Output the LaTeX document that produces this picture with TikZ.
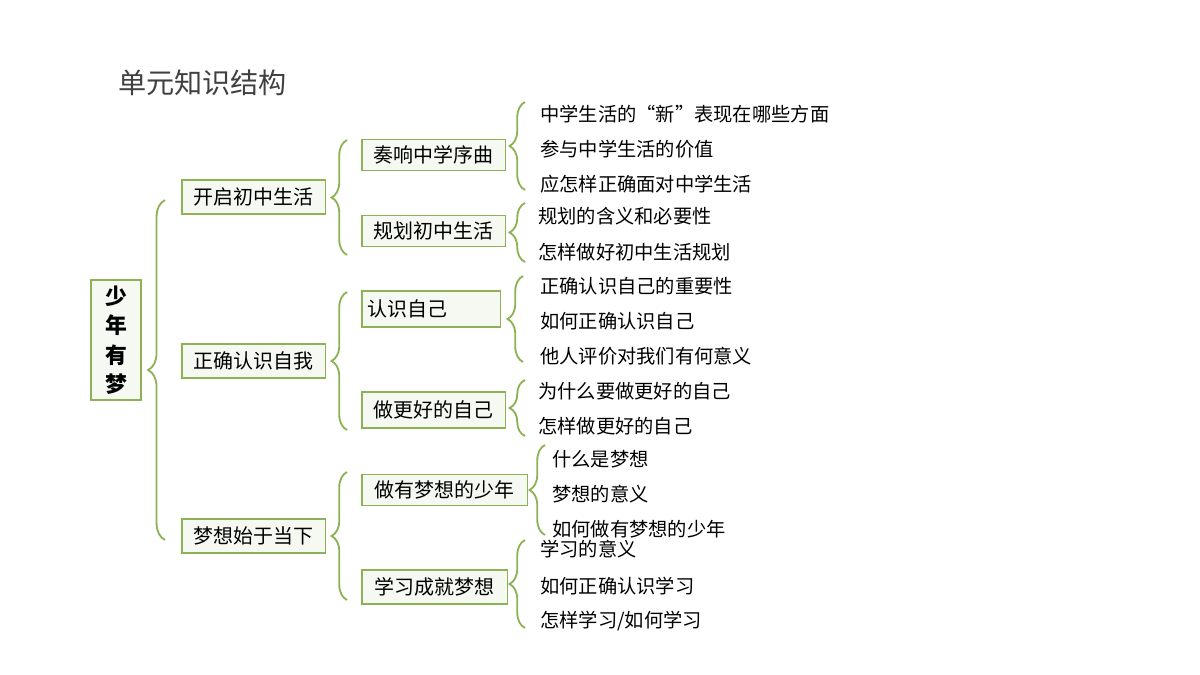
\documentclass[tikz,border=0pt]{standalone}
\usepackage{fontspec}
\setmainfont{Noto Sans CJK SC}
\usetikzlibrary{decorations.pathreplacing}
\definecolor{leafgreen}{HTML}{8DB255}
\definecolor{boxfill}{HTML}{F6F8F2}
\newcommand\px{0.709pt}

\begin{document}
\begin{tikzpicture}[x=0.025cm,y=-0.025cm,
  box/.style={draw=leafgreen,line width=1.2pt,fill=boxfill,inner sep=0pt,anchor=west,font=\fontsize{14.2}{15}\selectfont},
  leaf/.style={anchor=west,inner sep=0pt,font=\fontsize{13.7}{15}\selectfont},
  brc/.style={draw=leafgreen,line width=1.3pt,decorate,decoration={brace,amplitude=#1}},
  brc/.default=11pt]
\useasboundingbox (0,0) rectangle (1200,675);
\node[anchor=west,inner sep=0pt,font=\fontsize{20}{22}\selectfont,text=black!75] (title) at (118,83) {单元知识结构};

\node[draw=leafgreen,line width=1.2pt,fill=boxfill,minimum width=50*\px,minimum height=120*\px,inner sep=0pt,font=\fontsize{15.5}{21}\selectfont\bfseries,align=center] (root) at (116,340) {少\\年\\有\\梦};

% first level
\node[box,minimum width=144*\px,minimum height=34*\px] (a) at (181,197) {开启初中生活};
\node[box,minimum width=144*\px,minimum height=34*\px] (b) at (181,361) {正确认识自我};
\node[box,minimum width=144*\px,minimum height=34*\px] (c) at (181,536) {梦想始于当下};
\draw[brc=12pt] (165,540) -- (165,200);

% second level
\node[box,minimum width=144*\px,minimum height=31*\px] (a1) at (361,155) {奏响中学序曲};
\node[box,minimum width=144*\px,minimum height=31*\px] (a2) at (361,231) {规划初中生活};
\node[box,minimum height=36*\px,text width=127*\px,inner xsep=6*\px,align=left] (b1) at (361,309) {认识自己};
\node[box,minimum width=144*\px,minimum height=36*\px] (b2) at (361,410) {做更好的自己};
\node[box,minimum width=166*\px,minimum height=31*\px] (c1) at (361,490) {做有梦想的少年};
\node[box,minimum width=146*\px,minimum height=34*\px] (c2) at (361,587) {学习成就梦想};
\draw[brc] (347,255) -- (347,140);
\draw[brc] (347,430) -- (347,292);
\draw[brc] (347,600) -- (347,472);

% leaves
\node[leaf] (a11) at (540,114) {中学生活的“新”表现在哪些方面};
\node[leaf] (a12) at (540,149) {参与中学生活的价值};
\node[leaf] (a13) at (540,184) {应怎样正确面对中学生活};
\draw[brc] (525,190) -- (525,102);
\node[leaf] (a21) at (538,216) {规划的含义和必要性};
\node[leaf] (a22) at (538,252) {怎样做好初中生活规划};
\draw[brc] (525,262) -- (525,203);
\node[leaf] (b11) at (540,286) {正确认识自己的重要性};
\node[leaf] (b12) at (540,321) {如何正确认识自己};
\node[leaf] (b13) at (540,356) {他人评价对我们有何意义};
\draw[brc] (523,362) -- (523,276);
\node[leaf] (b21) at (538,391) {为什么要做更好的自己};
\node[leaf] (b22) at (538,426) {怎样做更好的自己};
\draw[brc] (525,436) -- (525,380);
\node[leaf] (c11) at (552,459) {什么是梦想};
\node[leaf] (c12) at (552,494) {梦想的意义};
\node[leaf] (c13) at (552,529) {如何做有梦想的少年};
\draw[brc] (545,535) -- (545,445);
\node[leaf] (c21) at (540,549) {学习的意义};
\node[leaf] (c22) at (540,586) {如何正确认识学习};
\node[leaf] (c23) at (540,621) {怎样学习/如何学习};
\draw[brc] (525,628) -- (525,540);
\end{tikzpicture}
\end{document}
